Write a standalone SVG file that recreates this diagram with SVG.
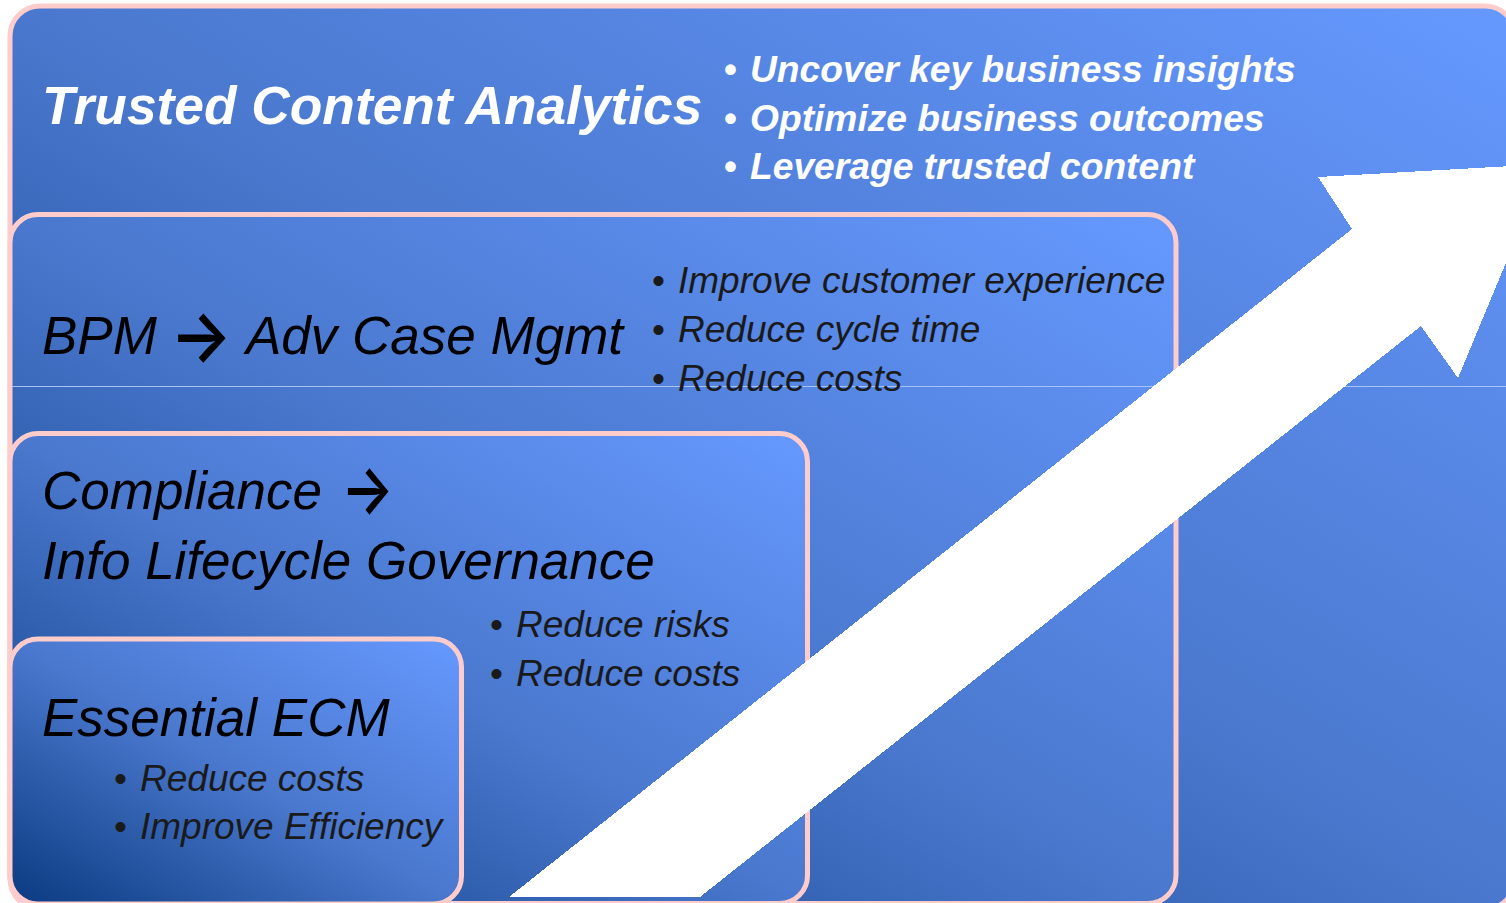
<svg xmlns="http://www.w3.org/2000/svg" width="1506" height="903" viewBox="0 0 1506 903">
  <defs>
    <linearGradient id="boxFill" x1="0" y1="1" x2="1" y2="0">
      <stop offset="0" stop-color="#0A3A80"/>
      <stop offset="0.5" stop-color="#4A78CE"/>
      <stop offset="1" stop-color="#6699FF"/>
    </linearGradient>
  </defs>
  <style>
    .box { fill: url(#boxFill); stroke: #FFCCCC; stroke-width: 5; }
    .title { font-family: "Liberation Sans", Arial, sans-serif; font-style: italic; font-size: 53px; fill: #000; }
    .titleW { font-family: "Liberation Sans", Arial, sans-serif; font-style: italic; font-weight: bold; font-size: 53.3px; fill: #fff; }
    .bul { font-family: "Liberation Sans", Arial, sans-serif; font-style: italic; font-size: 37px; fill: #1a1a1a; }
    .bulW { font-family: "Liberation Sans", Arial, sans-serif; font-style: italic; font-weight: bold; font-size: 37.2px; fill: #fff; }
    .dot { font-family: "Liberation Sans", Arial, sans-serif; font-size: 37px; fill: #1a1a1a; }
    .dotW { font-family: "Liberation Sans", Arial, sans-serif; font-size: 37px; font-weight: bold; fill: #fff; }
    .arr { font-family: Inter, "Noto Sans CJK JP", sans-serif; font-weight: 600; font-style: normal; fill: #000; }
  </style>
  <rect x="0" y="0" width="1506" height="903" fill="#ffffff"/>

  <g id="trusted-content-analytics">
    <rect class="box" x="10" y="6" width="1505" height="903" rx="30" ry="30"/>
    <text class="titleW" x="42" y="124">Trusted Content Analytics</text>
    <text class="dotW" x="724" y="82">•</text>
    <text class="bulW" x="750" y="82">Uncover key business insights</text>
    <text class="dotW" x="724" y="130.5">•</text>
    <text class="bulW" x="750" y="130.5">Optimize business outcomes</text>
    <text class="dotW" x="724" y="179">•</text>
    <text class="bulW" x="750" y="179">Leverage trusted content</text>
  </g>

  <g id="bpm-adv-case-mgmt">
    <rect class="box" x="10" y="214.5" width="1166" height="689" rx="28" ry="28"/>
    <line x1="12" y1="386.5" x2="1506" y2="386.5" stroke="#A9C2F2" stroke-width="1"/>
    <text class="title" x="42" y="354">BPM</text>
    <text class="arr" x="170" y="361" font-size="72" textLength="62" lengthAdjust="spacingAndGlyphs">→</text>
    <text class="title" x="246" y="354">Adv Case Mgmt</text>
    <text class="dot" x="652" y="293">•</text>
    <text class="bul" x="678" y="293">Improve customer experience</text>
    <text class="dot" x="652" y="342">•</text>
    <text class="bul" x="678" y="342">Reduce cycle time</text>
    <text class="dot" x="652" y="391">•</text>
    <text class="bul" x="678" y="391">Reduce costs</text>
  </g>

  <g id="compliance-ilg">
    <rect class="box" x="10" y="433.5" width="797.5" height="470" rx="28" ry="28"/>
    <text class="title" x="42" y="509">Compliance</text>
    <text class="arr" x="341" y="513" font-size="68" textLength="53" lengthAdjust="spacingAndGlyphs">→</text>
    <text class="title" x="42" y="579">Info Lifecycle Governance</text>
    <text class="dot" x="490" y="637">•</text>
    <text class="bul" x="516" y="637">Reduce risks</text>
    <text class="dot" x="490" y="686">•</text>
    <text class="bul" x="516" y="686">Reduce costs</text>
  </g>

  <g id="essential-ecm">
    <rect class="box" x="10" y="639" width="451.5" height="265" rx="28" ry="28"/>
    <text class="title" x="42" y="736">Essential ECM</text>
    <text class="dot" x="114" y="791">•</text>
    <text class="bul" x="140" y="791">Reduce costs</text>
    <text class="dot" x="114" y="839">•</text>
    <text class="bul" x="140" y="839">Improve Efficiency</text>
  </g>

  <g id="growth-arrow">
    <polygon points="509,897 1352,229 1318,177 1547,164 1458,378 1421,326 700,897" fill="#ffffff" shape-rendering="crispEdges"/>
  </g>
</svg>
